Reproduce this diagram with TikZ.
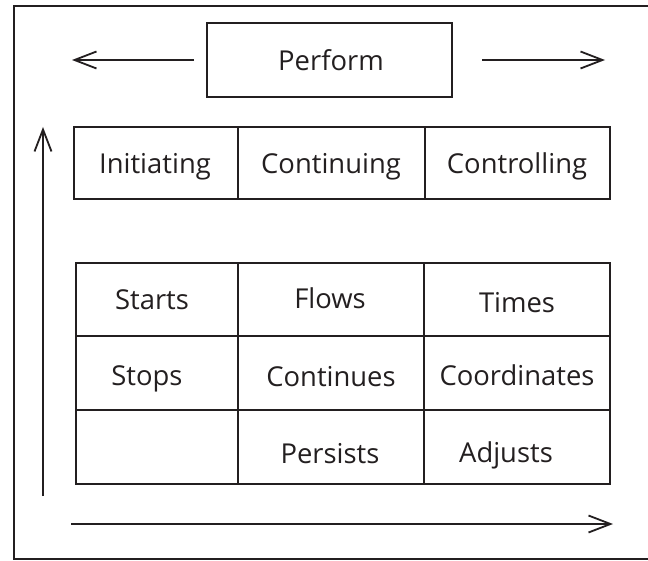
\documentclass[tikz,border=0pt]{standalone}
\usepackage{fontspec}
\setmainfont{Open Sans}
\usetikzlibrary{arrows.meta,calc}
\definecolor{ink}{HTML}{231F20}
\tikzset{
  every picture/.style={x=1bp,y=-1bp},
  box/.style={draw=ink,line width=2bp,inner sep=0pt,minimum width=#1,minimum height=72bp},
  box/.default=164bp,
  lbl/.style={text=ink,font=\fontsize{27.5}{31}\selectfont,inner sep=0pt,anchor=base},
  flow/.style={draw=ink,line width=1.8bp,-{Straight Barb[length=22bp,width=17bp,line width=1.8bp]}}
}
\begin{document}
\begin{tikzpicture}
\useasboundingbox (0,0) rectangle (648,561);
% open frame (right side runs off the page)
\draw[ink,line width=2bp] (652,6) -- (14,6) -- (14,559) -- (652,559);

% top label box
\node[box=245bp,minimum height=74bp] (perform) at (329.5,60) {};
\node[lbl] at (331,70.5) {Perform};
\coordinate (pl) at (72,60);
\coordinate (pr) at (605,60);
\draw[flow] ($(perform.west)+(-12,0)$) -- (pl);
\draw[flow] ($(perform.east)+(29,0)$) -- (pr);

% phase header row
\node[box=164bp] (h1) at (156,163) {};
\node[box=187bp] (h2) at (331.5,163) {};
\node[box=185bp] (h3) at (517.5,163) {};
\node[lbl] at (155,174) {Initiating};
\node[lbl] at (331,174) {Continuing};
\node[lbl] at (517,174) {Controlling};

% activity grid
\node[box=162bp,minimum height=73bp] (a1) at (157,299.5) {};
\node[box=186bp,minimum height=73bp] (a2) at (331,299.5) {};
\node[box=186bp,minimum height=73bp] (a3) at (517,299.5) {};
\node[box=162bp,minimum height=74bp] (b1) at (157,373) {};
\node[box=186bp,minimum height=74bp] (b2) at (331,373) {};
\node[box=186bp,minimum height=74bp] (b3) at (517,373) {};
\node[box=162bp,minimum height=74bp] (c1) at (157,447) {};
\node[box=186bp,minimum height=74bp] (c2) at (331,447) {};
\node[box=186bp,minimum height=74bp] (c3) at (517,447) {};

\node[lbl] at (152,309) {Starts};
\node[lbl] at (330,308) {Flows};
\node[lbl] at (517,312) {Times};
\node[lbl] at (147,385) {Stops};
\node[lbl] at (331,386) {Continues};
\node[lbl] at (517,385) {Coordinates};
\node[lbl] at (330,463) {Persists};
\node[lbl] at (506,462) {Adjusts};

% axes
\coordinate (v0) at (43,496);
\coordinate (v1) at (43,127);
\coordinate (h0) at (71,524);
\coordinate (hx) at (613,524);
\draw[flow] (v0) -- (v1);
\draw[flow] (h0) -- (hx);
\end{tikzpicture}
\end{document}
